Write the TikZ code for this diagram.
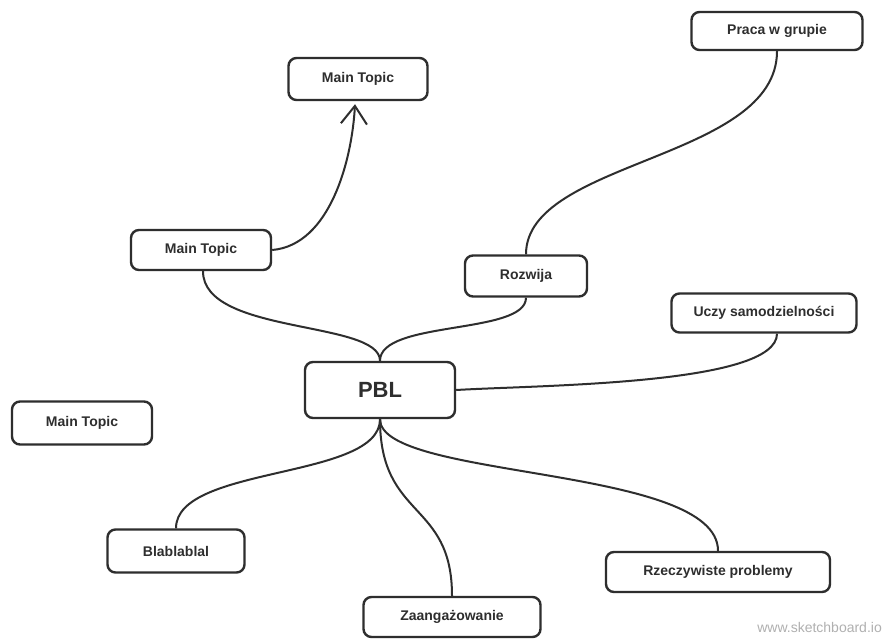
\documentclass[tikz,border=0pt]{standalone}
\usepackage{fontspec}
\setmainfont{Liberation Sans}
\usetikzlibrary{arrows.meta}
\definecolor{ink}{HTML}{2E2E2E}
\definecolor{wm}{HTML}{B0B0B0}
\tikzset{
  topicbox/.style={draw=ink, line width=2.4pt, rounded corners=8pt, fill=white,
    text=ink, font=\fontsize{14}{16}\selectfont\bfseries, inner sep=0pt,
    minimum height=40pt},
  link/.style={draw=ink, line width=2pt},
}
\begin{document}
\begin{tikzpicture}[x=1pt,y=-1pt]
\useasboundingbox (0,0) rectangle (885,639);
\fill[white] (0,0) rectangle (885,639);

\node[topicbox, minimum width=171pt, minimum height=38pt] (praca) at (777,31) {Praca w grupie};
\node[topicbox, minimum width=139pt, minimum height=42pt] (mtt) at (358,79) {Main Topic};
\node[topicbox, minimum width=140pt] (mtl) at (201,250) {Main Topic};
\node[topicbox, minimum width=122pt, minimum height=41pt] (rozwija) at (526,276) {Rozwija};
\node[topicbox, minimum width=185pt, minimum height=39pt] (uczy) at (764,313) {Uczy samodzielności};
\node[topicbox, minimum width=150pt, minimum height=56pt, font=\fontsize{22}{24}\selectfont\bfseries] (pbl) at (380,390) {PBL};
\node[topicbox, minimum width=140pt, minimum height=43pt] (mtf) at (82,423) {Main Topic};
\node[topicbox, minimum width=137pt, minimum height=43pt] (blab) at (176,551) {Blablablal};
\node[topicbox, minimum width=177pt] (zaang) at (452,617) {Zaangażowanie};
\node[topicbox, minimum width=224pt] (rzecz) at (718,572) {Rzeczywiste problemy};

\node[text=wm, font=\fontsize{14}{16}\selectfont, anchor=base east, inner sep=0pt] (wmark) at (882,632) {www.sketchboard.io};

\draw[link, -{Straight Barb[length=18pt,width=26pt,line width=2pt]}]
  (mtl.east) .. controls (330,245) and (352,160) .. ([xshift=-3pt,yshift=-3pt]mtt.south);
\draw[link] (praca.south) .. controls (777,160) and (526,160) .. (rozwija.north);
\draw[link] (rozwija.south) .. controls (526,335) and (380,320) .. (pbl.north);
\draw[link] ([xshift=2pt]mtl.south) .. controls (203,335) and (380,320) .. (pbl.north);
\draw[link] ([xshift=13pt]uczy.south) .. controls (777,385) and (540,385) .. (pbl.east);
\draw[link] (pbl.south) .. controls (380,480) and (176,465) .. (blab.north);
\draw[link] (pbl.south) .. controls (380,520) and (452,500) .. (zaang.north);
\draw[link] (pbl.south) .. controls (380,480) and (718,465) .. (rzecz.north);
\end{tikzpicture}
\end{document}
